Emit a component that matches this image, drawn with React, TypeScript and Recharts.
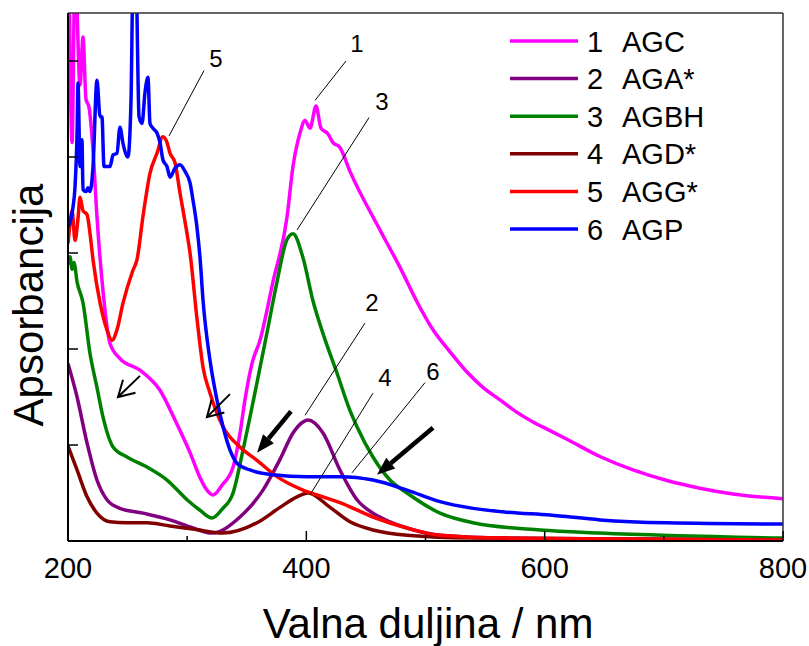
import React from "react";
import {
  Label,
  Legend,
  Line,
  LineChart,
  ReferenceLine,
  XAxis,
  YAxis,
} from "recharts";

// wavelength (nm) / absorbance pairs, one pair of arrays per sample
const AGC_NM = [200.8, 203.4, 205.9, 210.1, 212.6, 215.1, 217.6, 221.0, 224.3, 228.5, 235.2, 243.6, 260.4, 277.2, 289.8, 302.4, 310.8, 316.6, 321.7, 329.2, 338.5, 344.3, 348.5, 354.4, 361.1, 372.0, 383.8, 388.8, 394.7, 398.9, 403.1, 408.1, 412.3, 418.2, 422.4, 428.2, 436.6, 461.8, 478.6, 492.9, 506.3, 520.6, 534.8, 548.2, 562.5, 576.8, 590.2, 604.5, 618.7, 646.4, 674.1, 702.6, 730.3, 758.0, 800];
const AGC_ABS = [6.0, 4.15, 6.0, 4.75, 5.25, 4.6, 4.52, 4.07, 3.38, 2.72, 2.06, 1.9, 1.78, 1.57, 1.26, 0.92, 0.66, 0.53, 0.48, 0.58, 0.77, 1.12, 1.47, 1.85, 2.09, 2.7, 3.375, 3.9, 4.25, 4.38, 4.3, 4.53, 4.3, 4.24, 4.15, 4.1, 3.85, 3.24, 2.85, 2.49, 2.2, 1.97, 1.76, 1.6, 1.47, 1.34, 1.24, 1.15, 1.06, 0.88, 0.74, 0.63, 0.55, 0.49, 0.44];

const AGA_NM = [200, 207.6, 216.0, 224.3, 232.7, 243.6, 262.9, 285.6, 304.9, 320.8, 344.3, 363.6, 377.9, 388.8, 397.2, 401.4, 414.0, 428.2, 442.5, 455.9, 470.2, 484.5, 512.2, 568.4, 800];
const AGA_ABS = [1.85, 1.5, 1.02, 0.635, 0.43, 0.34, 0.29, 0.22, 0.135, 0.083, 0.25, 0.53, 0.85, 1.125, 1.24, 1.26, 1.125, 0.74, 0.43, 0.29, 0.2, 0.135, 0.06, 0.03, 0.015];

const AGBH_NM = [200, 201.7, 203.4, 205.0, 207.6, 212.6, 218.5, 224.3, 229.4, 237.8, 249.5, 266.3, 283.1, 299.9, 310.8, 320.8, 329.2, 338.5, 346.9, 358.6, 367.0, 375.4, 383.8, 388.8, 397.2, 405.6, 414.0, 425.7, 436.6, 442.5, 455.9, 470.2, 484.5, 512.2, 539.9, 596.1, 646.4, 800];
const AGBH_ABS = [2.88, 2.96, 2.83, 2.9, 2.7, 2.48, 1.95, 1.6, 1.29, 0.98, 0.875, 0.77, 0.635, 0.43, 0.32, 0.24, 0.33, 0.5, 0.95, 1.65, 2.17, 2.7, 3.14, 3.2, 2.95, 2.5, 2.16, 1.75, 1.36, 1.19, 0.875, 0.635, 0.5, 0.29, 0.19, 0.115, 0.083, 0.03];

const AGD_NM = [200, 207.6, 216.0, 224.3, 235.2, 249.5, 266.3, 285.6, 304.9, 330.0, 358.6, 377.9, 392.2, 401.4, 419.9, 436.6, 455.9, 484.5, 539.9, 800];
const AGD_ABS = [0.99, 0.74, 0.46, 0.29, 0.2, 0.19, 0.19, 0.156, 0.125, 0.083, 0.19, 0.35, 0.46, 0.5, 0.35, 0.2, 0.115, 0.06, 0.03, 0.01];

const AGG_NM = [200, 201.7, 203.4, 205.9, 208.4, 210.1, 212.6, 216.0, 218.5, 221.0, 226.9, 232.7, 236.9, 241.1, 246.2, 254.5, 257.9, 262.9, 268.8, 274.7, 279.7, 283.1, 285.6, 289.8, 294.0, 299.9, 302.4, 308.2, 313.3, 319.2, 330.1, 344.3, 358.6, 375.4, 397.2, 414.0, 428.2, 455.9, 484.5, 512.2, 568.4, 800];
const AGG_ABS = [3.1, 3.3, 3.44, 3.13, 3.36, 3.58, 3.44, 3.4, 3.2, 2.93, 2.48, 2.2, 2.09, 2.2, 2.48, 2.82, 2.93, 3.38, 3.83, 4.04, 4.21, 4.15, 4.04, 3.94, 3.625, 3.2, 3.0, 2.32, 1.81, 1.54, 1.19, 0.98, 0.84, 0.67, 0.53, 0.46, 0.4, 0.25, 0.135, 0.06, 0.03, 0.01];

const AGP_NM = [200, 204.2, 205.9, 207.6, 208.4, 210.1, 211.7, 212.6, 215.1, 216.8, 218.5, 221.0, 224.3, 226.9, 228.5, 230.2, 232.7, 235.2, 237.8, 241.1, 243.6, 246.2, 250.3, 252.9, 254.5, 257.1, 259.6, 262.1, 264.6, 267.1, 268.8, 271.3, 274.7, 277.2, 279.7, 283.1, 285.6, 289.8, 294.0, 298.2, 302.4, 304.9, 308.2, 310.8, 313.3, 319.2, 325.0, 330.1, 335.9, 341.8, 352.7, 372.0, 400.6, 428.2, 455.9, 484.5, 512.2, 539.9, 568.4, 604.5, 646.4, 702.6, 800];
const AGP_ABS = [3.27, 3.48, 3.69, 4.25, 4.77, 3.9, 4.18, 3.66, 3.64, 3.68, 3.64, 3.9, 4.8, 4.42, 4.42, 3.9, 3.9, 3.9, 4.02, 4.04, 4.31, 4.14, 4.0, 4.6, 5.8, 5.8, 4.42, 4.35, 4.67, 4.83, 4.35, 4.3, 4.25, 4.15, 3.97, 3.9, 3.79, 3.885, 3.92, 3.85, 3.73, 3.55, 3.27, 2.95, 2.51, 1.88, 1.47, 1.19, 0.95, 0.81, 0.74, 0.69, 0.67, 0.67, 0.635, 0.53, 0.41, 0.34, 0.3, 0.27, 0.22, 0.19, 0.177];

const SERIES = [
  { num: "1", name: "AGC", color: "#ff00ff", nm: AGC_NM, abs: AGC_ABS },
  { num: "2", name: "AGA*", color: "#800080", nm: AGA_NM, abs: AGA_ABS },
  { num: "3", name: "AGBH", color: "#008000", nm: AGBH_NM, abs: AGBH_ABS },
  { num: "4", name: "AGD*", color: "#800000", nm: AGD_NM, abs: AGD_ABS },
  { num: "5", name: "AGG*", color: "#ff0000", nm: AGG_NM, abs: AGG_ABS },
  { num: "6", name: "AGP", color: "#0000ff", nm: AGP_NM, abs: AGP_ABS },
];

const X_TICKS = [200, 300, 400, 500, 600, 700, 800];
const TOP_TICKS = [300, 400, 500, 600, 700];
const LEFT_TICKS = [1, 2, 3, 4, 5];
const RIGHT_TICKS = [0.5, 1, 1.5, 2, 2.5, 3, 3.5, 4, 4.5, 5];

// numbered leader lines: [from, to] in data units, label offset in px
const LEADERS = [
  { n: "1", from: [433.3, 5.0], to: [407.3, 4.59], dx: 11, dy: -9 },
  { n: "3", from: [452.6, 4.41], to: [392.2, 3.24], dx: 13, dy: -8 },
  { n: "5", from: [314.1, 4.9], to: [284.8, 4.22], dx: 12, dy: -4 },
  { n: "2", from: [449.2, 2.27], to: [398.9, 1.31], dx: 7, dy: -12 },
  { n: "4", from: [455.9, 1.54], to: [403.1, 0.48], dx: 12, dy: -7 },
  { n: "6", from: [499.6, 1.65], to: [438.3, 0.71], dx: 8, dy: -3 },
];

const ARROWS = [
  { from: [260.4, 1.72], to: [241.96, 1.5], filled: false },
  { from: [335.9, 1.53], to: [316.6, 1.29], filled: false },
  { from: [387.1, 1.35], to: [358.6, 0.92], filled: true },
  { from: [506.3, 1.18], to: [459.3, 0.69], filled: true },
];

const FONT = "'Liberation Sans', Arial, Helvetica, sans-serif";

const BottomTick = (props: any) => {
  const { x, y, payload } = props;
  const major = payload.value % 200 === 0;
  return (
    <g>
      <line x1={x} y1={y} x2={x} y2={y - (major ? 10 : 5)} stroke="#000" strokeWidth={1.5} />
      {major && (
        <text x={x} y={y + 37} textAnchor="middle" fontSize={29} fontFamily={FONT} fill="#000">
          {payload.value}
        </text>
      )}
    </g>
  );
};

const TopTick = (props: any) => (
  <line x1={props.x} y1={props.y} x2={props.x} y2={props.y + 3} stroke="#333" strokeWidth={1.2} />
);

const LeftTick = (props: any) => (
  <line x1={props.x} y1={props.y} x2={props.x + 10} y2={props.y} stroke="#000" strokeWidth={1.5} />
);

const RightTick = (props: any) => (
  <line x1={props.x} y1={props.y} x2={props.x - 4} y2={props.y} stroke="#333" strokeWidth={1.2} />
);

const leaderShape = (n: string, dx: number, dy: number) => (p: any) => (
  <g>
    <line x1={p.x1} y1={p.y1} x2={p.x2} y2={p.y2} stroke="#000" strokeWidth={1} />
    <text x={p.x1 + dx} y={p.y1 + dy} textAnchor="middle" fontSize={24} fontFamily={FONT} fill="#000">
      {n}
    </text>
  </g>
);

const arrowShape = (filled: boolean) => (p: any) => {
  const { x1, y1, x2, y2 } = p;
  const ang = Math.atan2(y1 - y2, x1 - x2);
  if (!filled) {
    const len = 18;
    const a1 = ang + Math.PI / 6;
    const a2 = ang - Math.PI / 6;
    return (
      <g stroke="#000" strokeWidth={2} fill="none">
        <line x1={x1} y1={y1} x2={x2} y2={y2} />
        <polyline
          points={`${x2 + len * Math.cos(a1)},${y2 + len * Math.sin(a1)} ${x2},${y2} ${x2 + len * Math.cos(a2)},${y2 + len * Math.sin(a2)}`}
        />
      </g>
    );
  }
  const hl = 18;
  const hw = 7;
  const bx = x2 + hl * Math.cos(ang);
  const by = y2 + hl * Math.sin(ang);
  const px = -Math.sin(ang) * hw;
  const py = Math.cos(ang) * hw;
  return (
    <g>
      <line x1={x1} y1={y1} x2={bx} y2={by} stroke="#000" strokeWidth={4.5} />
      <polygon points={`${x2},${y2} ${bx + px},${by + py} ${bx - px},${by - py}`} fill="#000" />
    </g>
  );
};

const LegendBox = () => (
  <svg width={260} height={230}>
    {SERIES.map((s, i) => {
      const y = 21 + i * 37.6;
      return (
        <g key={s.name}>
          <line x1={10} y1={y} x2={78} y2={y} stroke={s.color} strokeWidth={3.5} />
          <text x={87} y={y + 10.5} fontSize={29} fontFamily={FONT} fill="#000">
            {s.num}
          </text>
          <text x={122} y={y + 10.5} fontSize={29} fontFamily={FONT} fill="#000">
            {s.name}
          </text>
        </g>
      );
    })}
  </svg>
);

export default function App() {
  return (
    <div style={{ position: "absolute", left: 0, top: 0, width: 809, height: 646, background: "#fff" }}>
      <LineChart width={809} height={646} margin={{ top: 12, right: 25, bottom: 45, left: 67 }}>
        <XAxis
          dataKey="x"
          type="number"
          domain={[200, 800]}
          allowDataOverflow
          ticks={X_TICKS}
          interval={0}
          height={60}
          tickSize={0}
          tickMargin={0}
          tickLine={false}
          tick={<BottomTick />}
          axisLine={{ stroke: "#000", strokeWidth: 2 }}
        >
          <Label
            content={() => (
              <text x={428} y={638} textAnchor="middle" fontSize={42} fontFamily={FONT} fill="#000">
                Valna duljina / nm
              </text>
            )}
          />
        </XAxis>
        <XAxis
          xAxisId="top"
          orientation="top"
          type="number"
          domain={[200, 800]}
          ticks={TOP_TICKS}
          interval={0}
          height={1}
          tickSize={0}
          tickMargin={0}
          tickLine={false}
          tick={<TopTick />}
          axisLine={{ stroke: "#333", strokeWidth: 1.5 }}
        />
        <YAxis
          type="number"
          domain={[0, 5.5]}
          allowDataOverflow
          ticks={LEFT_TICKS}
          interval={0}
          width={1}
          tickSize={0}
          tickMargin={0}
          tickLine={false}
          tick={<LeftTick />}
          axisLine={{ stroke: "#000", strokeWidth: 2 }}
        >
          <Label
            content={() => (
              <text
                x={43}
                y={305}
                transform="rotate(-90 43 305)"
                textAnchor="middle"
                fontSize={42}
                fontFamily={FONT}
                fill="#000"
              >
                Apsorbancija
              </text>
            )}
          />
        </YAxis>
        <YAxis
          yAxisId="right"
          orientation="right"
          type="number"
          domain={[0, 5.5]}
          ticks={RIGHT_TICKS}
          interval={0}
          width={1}
          tickSize={0}
          tickMargin={0}
          tickLine={false}
          tick={<RightTick />}
          axisLine={{ stroke: "#333", strokeWidth: 1.5 }}
        />
        <Legend
          layout="vertical"
          align="center"
          verticalAlign="middle"
          width={260}
          height={230}
          wrapperStyle={{ left: 500, top: 20, right: "auto", bottom: "auto", margin: 0 }}
          content={() => <LegendBox />}
        />
        {SERIES.map((s) => (
          <Line
            key={s.name}
            data={s.nm.map((x, i) => ({ x, y: s.abs[i] }))}
            dataKey="y"
            type="monotone"
            stroke={s.color}
            strokeWidth={3.5}
            dot={false}
            activeDot={false}
            isAnimationActive={false}
          />
        ))}
        {LEADERS.map((l) => (
          <ReferenceLine
            key={"lead" + l.n}
            segment={[
              { x: l.from[0], y: l.from[1] },
              { x: l.to[0], y: l.to[1] },
            ]}
            ifOverflow="visible"
            shape={leaderShape(l.n, l.dx, l.dy)}
          />
        ))}
        {ARROWS.map((a, i) => (
          <ReferenceLine
            key={"arrow" + i}
            segment={[
              { x: a.from[0], y: a.from[1] },
              { x: a.to[0], y: a.to[1] },
            ]}
            ifOverflow="visible"
            shape={arrowShape(a.filled)}
          />
        ))}
      </LineChart>
    </div>
  );
}
